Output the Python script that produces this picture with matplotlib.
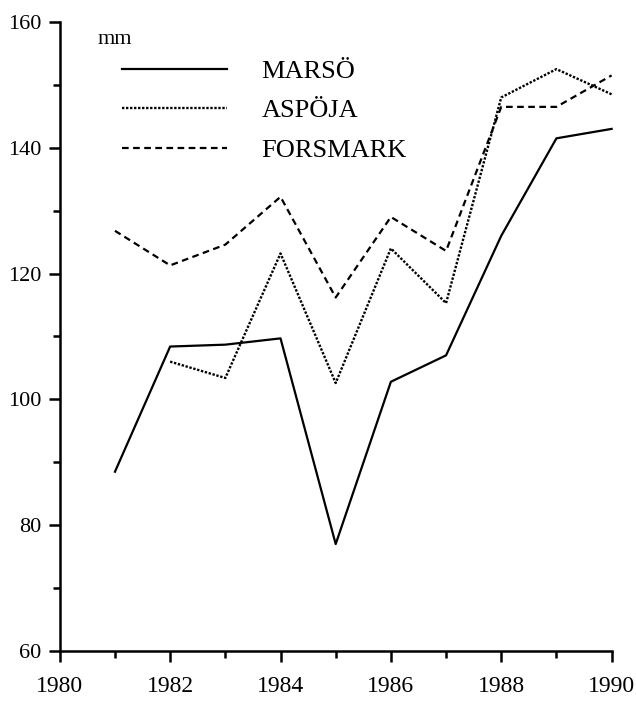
import matplotlib.pyplot as plt
from matplotlib.ticker import MultipleLocator

plt.rcParams['font.family'] = ['Liberation Serif', 'DejaVu Serif']

years_marso = [1981, 1982, 1983, 1984, 1985, 1986, 1987, 1988, 1989, 1990]
marso = [88.5, 108.4, 108.7, 109.7, 77.0, 102.8, 107.0, 126.0, 141.5, 143.0]

years_aspoja = [1982, 1983, 1984, 1985, 1986, 1987, 1988, 1989, 1990]
aspoja = [106.0, 103.4, 123.2, 102.6, 124.0, 115.3, 148.0, 152.5, 148.5]

years_forsmark = [1981, 1982, 1983, 1984, 1985, 1986, 1987, 1988, 1989, 1990]
forsmark = [126.8, 121.3, 124.6, 132.2, 116.2, 129.0, 123.6, 146.5, 146.5, 151.5]

fig = plt.figure(figsize=(6.36, 7.08), dpi=100)
ax = fig.add_axes([0.094, 0.0805, 0.885, 0.8885])

ax.plot(years_marso, marso, color='black', lw=1.6, ls='-', label='MARSÖ')
ax.plot(years_aspoja, aspoja, color='black', lw=1.7, ls=(0, (1, 0.7)), label='ASPÖJA')
ax.plot(years_forsmark, forsmark, color='black', lw=1.6, ls=(0, (3, 2)), label='FORSMARK')

ax.set_xlim(1980, 1990.2)
ax.set_ylim(60, 160)
ax.spines['top'].set_visible(False)
ax.spines['right'].set_visible(False)
ax.spines['left'].set_linewidth(1.8)
ax.spines['bottom'].set_linewidth(1.8)
ax.spines['bottom'].set_bounds(1980, 1990)

ax.xaxis.set_major_locator(MultipleLocator(2))
ax.xaxis.set_minor_locator(MultipleLocator(1))
ax.yaxis.set_major_locator(MultipleLocator(20))
ax.yaxis.set_minor_locator(MultipleLocator(10))
ax.tick_params(which='both', direction='out', width=1.8)
ax.tick_params(which='major', length=8)
ax.tick_params(which='minor', length=5)
ax.tick_params(axis='x', labelsize=17, pad=10)
ax.tick_params(axis='y', labelsize=16, pad=5)

ax.text(0.067, 0.965, 'mm', transform=ax.transAxes, fontsize=16, va='baseline')

ax.legend(loc='upper left', bbox_to_anchor=(0.11, 0.94), frameon=False,
          borderpad=0, borderaxespad=0, fontsize=19,
          handlelength=4.0, handletextpad=1.3, labelspacing=0.6)

plt.savefig('out.png', dpi=100)
plt.close()
